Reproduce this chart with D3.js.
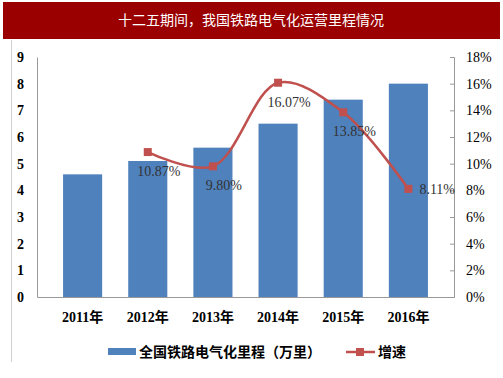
<!DOCTYPE html>
<html lang="zh">
<head>
    <meta charset="UTF-8">
    <title>十二五期间，我国铁路电气化运营里程情况</title>
    <script src="https://d3js.org/d3.v7.min.js"></script>
    <style>
        body { margin: 0; background: #fff; }
        svg { display: block; }
    </style>
</head>
<body>
    <svg width="503" height="378"></svg>
    <script>
        // data
        const years = ["2011年", "2012年", "2013年", "2014年", "2015年", "2016年"];
        const mileage = [4.6, 5.1, 5.6, 6.5, 7.4, 8.0];          // 万里
        const growth = [null, 10.87, 9.80, 16.07, 13.85, 8.11];  // %
        const leftTicks = [0, 1, 2, 3, 4, 5, 6, 7, 8, 9];
        const rightTicks = [0, 2, 4, 6, 8, 10, 12, 14, 16, 18];

        const svg = d3.select("svg");
        const serif = "'Times New Roman', 'Liberation Serif', 'Noto Sans CJK SC', serif";
        const cjk = "'Liberation Serif', 'Noto Sans CJK SC', serif";

        // title bar
        svg.append("rect")
            .attr("x", 3).attr("y", 2).attr("width", 497).attr("height", 37)
            .attr("fill", "#9a0000");
        svg.append("text")
            .attr("x", 251).attr("y", 25)
            .attr("text-anchor", "middle")
            .attr("fill", "#fff")
            .attr("font-family", "'Noto Sans CJK SC', sans-serif")
            .attr("font-size", 14)
            .text("十二五期间，我国铁路电气化运营里程情况");

        // thin frame line on the left
        svg.append("line")
            .attr("x1", 11.5).attr("x2", 11.5).attr("y1", 40).attr("y2", 362)
            .attr("stroke", "#d0d0d0");

        const plotL = 37, plotR = 454, plotT = 57, plotB = 297;

        const x = d3.scaleBand().domain(years).range([plotL, plotR]).padding(0.4);
        const y = d3.scaleLinear().domain([0, 9]).range([plotB, plotT]);
        const y2 = d3.scaleLinear().domain([0, 18]).range([plotB, plotT]);

        // bars
        svg.append("g").selectAll("rect")
            .data(mileage)
            .join("rect")
            .attr("x", (d, i) => x(years[i]))
            .attr("y", d => y(d))
            .attr("width", x.bandwidth())
            .attr("height", d => y(0) - y(d))
            .attr("fill", "#4f81bd");

        // left axis (line only)
        const gl = svg.append("g").attr("transform", `translate(${plotL},0)`)
            .call(d3.axisLeft(y).tickValues(leftTicks).tickSize(0).tickPadding(13));
        gl.select(".domain").attr("stroke", "#999");
        gl.selectAll("text")
            .attr("font-family", serif).attr("font-weight", "bold")
            .attr("font-size", 14).attr("fill", "#000");

        // right axis
        const gr = svg.append("g").attr("transform", `translate(${plotR},0)`)
            .call(d3.axisRight(y2).tickValues(rightTicks).tickFormat(d => d + "%")
                .tickSizeInner(-4).tickSizeOuter(-4).tickPadding(12));
        gr.select(".domain").attr("stroke", "#999");
        gr.selectAll(".tick line").attr("stroke", "#999");
        gr.selectAll("text")
            .attr("font-family", serif)
            .attr("font-size", 14).attr("fill", "#000");

        // x axis
        const gx = svg.append("g").attr("transform", `translate(0,${plotB})`)
            .call(d3.axisBottom(x).tickSize(0).tickPadding(15));
        gx.select(".domain").attr("stroke", "#999");
        gx.selectAll("text")
            .attr("font-family", cjk).attr("font-weight", "bold")
            .attr("font-size", 14).attr("fill", "#000");

        // growth line
        const pts = growth.map((g, i) => ({ g, c: x(years[i]) + x.bandwidth() / 2 }))
            .filter(p => p.g !== null);
        const line = d3.line()
            .x(p => p.c).y(p => y2(p.g))
            .curve(d3.curveCatmullRom.alpha(0.5));
        svg.append("path")
            .datum(pts)
            .attr("d", line)
            .attr("fill", "none")
            .attr("stroke", "#c0504d")
            .attr("stroke-width", 2.5);
        svg.append("g").selectAll("rect")
            .data(pts)
            .join("rect")
            .attr("x", p => p.c - 4).attr("y", p => y2(p.g) - 4)
            .attr("width", 8).attr("height", 8)
            .attr("fill", "#c0504d");

        // data labels: below the point, the last one to its right
        const isLast = (p, i) => i === pts.length - 1;
        svg.append("g").selectAll("text")
            .data(pts)
            .join("text")
            .attr("x", p => p.c + 11)
            .attr("y", (p, i) => isLast(p, i) ? y2(p.g) + 5 : y2(p.g) + 24)
            .attr("text-anchor", (p, i) => isLast(p, i) ? "start" : "middle")
            .attr("font-family", serif)
            .attr("font-size", 14)
            .attr("fill", "#333")
            .text(p => p.g.toFixed(2) + "%");

        // legend
        const lg = svg.append("g").attr("transform", "translate(0,352)");
        lg.append("rect")
            .attr("x", 108).attr("y", -4).attr("width", 28).attr("height", 7)
            .attr("fill", "#4f81bd");
        lg.append("text")
            .attr("x", 139).attr("y", 5)
            .attr("font-family", cjk).attr("font-weight", "bold")
            .attr("font-size", 14).attr("fill", "#000")
            .text("全国铁路电气化里程（万里）");
        lg.append("line")
            .attr("x1", 346).attr("x2", 375).attr("y1", 0).attr("y2", 0)
            .attr("stroke", "#c0504d").attr("stroke-width", 2.5);
        lg.append("rect")
            .attr("x", 356).attr("y", -4).attr("width", 8).attr("height", 8)
            .attr("fill", "#c0504d");
        lg.append("text")
            .attr("x", 378).attr("y", 5)
            .attr("font-family", cjk).attr("font-weight", "bold")
            .attr("font-size", 14).attr("fill", "#000")
            .text("增速");
    </script>
</body>
</html>
